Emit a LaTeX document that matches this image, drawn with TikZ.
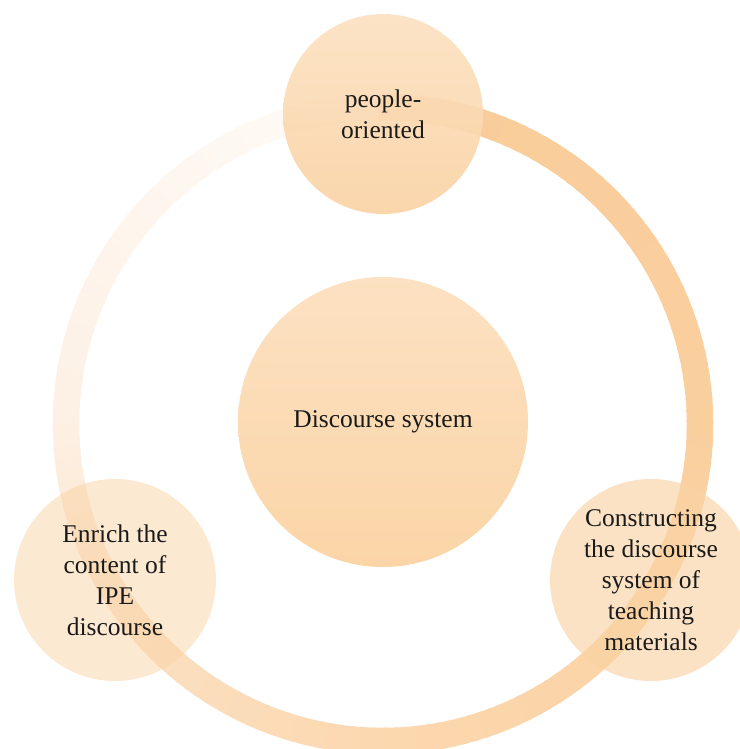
\documentclass[tikz,border=0pt]{standalone}
\usepackage{fontspec}
\setmainfont{Liberation Serif}
\definecolor{rA}{HTML}{FFFCF9}
\definecolor{rB}{HTML}{FDF0E4}
\definecolor{rC}{HTML}{FBDFC0}
\definecolor{rD}{HTML}{FCD8AF}
\definecolor{rE}{HTML}{FACF9E}
\definecolor{rF}{HTML}{F9CD9A}
\definecolor{peach}{HTML}{FAD3A4}
\definecolor{peachlight}{HTML}{FCE1C2}
\definecolor{peachdark}{HTML}{FBD5A7}
\definecolor{txt}{HTML}{1A1A1A}
\tikzset{
  bubble/.style={circle, inner sep=0pt, align=center, text=txt,
    font=\fontsize{25.5bp}{31bp}\selectfont, text opacity=1},
}
\begin{document}
\begin{tikzpicture}[x=1bp,y=1bp]
\useasboundingbox (0,0) rectangle (740,749);
\clip (0,0) rectangle (740,749);
\coordinate (rc) at (383,325);
% ring with angular gradient
\foreach \a/\b/\ca/\cb in {90/180/rA/rB, 180/225/rB/rC, 225/270/rC/rD, 270/360/rD/rE, 360/450/rE/rF}{
  \pgfmathtruncatemacro{\n}{(\b-\a)/2}
  \pgfmathsetmacro{\st}{(\b-\a)/\n}
  \foreach \i in {1,...,\n}{
    \pgfmathsetmacro{\s}{\a+(\i-1)*\st}
    \pgfmathsetmacro{\e}{\s+\st+0.8}
    \pgfmathtruncatemacro{\p}{100*(\i-0.5)/\n}
    \draw[line width=26.5bp, color=\cb!\p!\ca]
      ([shift={(\s:317bp)}]rc) arc[start angle=\s, end angle=\e, radius=317bp];
  }
}
% centre
\shade[top color=peachlight, bottom color=peachdark] (383,327) circle[radius=145bp];
\node[bubble, minimum size=290bp] (center) at (383,327) {Discourse system};
% top
\shade[top color=peachlight, bottom color=peach, opacity=0.92] (383,635) circle[radius=100bp];
\node[bubble, minimum size=200bp] (top) at (383,635) {people-\\oriented};
% left
\node[bubble, minimum size=202bp, fill=peach, fill opacity=0.5] (left) at (115,169)
  {Enrich the\\content of\\IPE\\discourse};
% right
\node[bubble, minimum size=202bp, fill=peach, fill opacity=0.65] (right) at (651,169)
  {Constructing\\the discourse\\system of\\teaching\\materials};
\end{tikzpicture}
\end{document}
